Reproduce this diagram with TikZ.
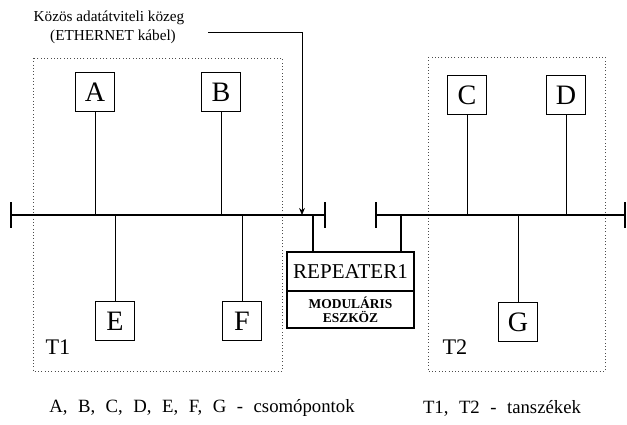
\documentclass[tikz,border=0pt]{standalone}
\usepackage{fontspec}
\setmainfont{Liberation Serif}
\usetikzlibrary{positioning,arrows.meta}
\tikzset{
  stnode/.style={draw,line width=0.7pt,minimum width=1.15cm,minimum height=1.15cm,
    inner sep=0pt,font=\fontsize{24}{26}\selectfont},
  busline/.style={line width=1.4pt},
  capline/.style={line width=1.6pt},
  tapline/.style={line width=0.7pt},
  reptap/.style={line width=1.5pt},
  deptbox/.style={draw=black!70,dotted,line width=0.8pt},
  repbox/.style={draw,line width=1.5pt,minimum width=3.81cm,inner sep=0pt,align=center},
  lbl/.style={inner sep=0pt},
  legend/.style={inner sep=0pt,font={\fontsize{16}{18}\selectfont\spaceskip=0.56em plus 0.1em\relax}},
}

\begin{document}
\begin{tikzpicture}[x=0.03cm,y=-0.03cm]
  \useasboundingbox (0,0) rectangle (627,424);
  % departments
  \draw[deptbox] (33,58) rectangle (282,371);
  \draw[deptbox] (428,57) rectangle (605,371);
  \node[lbl,font=\fontsize{19}{22}\selectfont] (t1) at (58,347) {T1};
  \node[lbl,font=\fontsize{19}{22}\selectfont] (t2) at (455,347) {T2};
  % bus segments
  \coordinate (busL1) at (11,215);
  \coordinate (busL2) at (325,215);
  \coordinate (busR1) at (376,215);
  \coordinate (busR2) at (625,215);
  \draw[busline] (busL1) -- (busL2);
  \draw[busline] (busR1) -- (busR2);
  \foreach \c in {busL1,busL2,busR1,busR2}
    \draw[capline] ([yshift=0.39cm]\c) -- ([yshift=-0.39cm]\c);
  % stations
  \node[stnode] (A) at (95,92) {A};
  \node[stnode] (B) at (221,92) {B};
  \node[stnode] (C) at (467,95) {C};
  \node[stnode] (D) at (566,95) {D};
  \node[stnode] (E) at (115,321) {E};
  \node[stnode] (F) at (242,321) {F};
  \node[stnode] (G) at (518,322) {G};
  \foreach \n in {A,B,E,F}
    \draw[tapline] (\n) -- (\n |- busL1);
  \foreach \n in {C,D,G}
    \draw[tapline] (\n) -- (\n |- busR1);
  % repeater
  \node[repbox,minimum height=1.17cm,font=\fontsize{18}{20}\selectfont] (rep) at (350.5,271.5) {REPEATER1};
  \node[repbox,minimum height=1.11cm,font=\fontsize{11.5}{12}\selectfont\bfseries] (mod) at (350.5,309.5) {MODULÁRIS\\ESZKÖZ};
  \draw[reptap] ([xshift=-1.13cm]rep.north) -- ([xshift=-1.13cm]rep.north |- busL1);
  \draw[reptap] ([xshift=1.51cm]rep.north) -- ([xshift=1.51cm]rep.north |- busR1);
  % medium caption
  \node[lbl,font=\fontsize{13}{15}\selectfont] (kozeg) at (109,18) {Közös adatátviteli közeg};
  \node[lbl,font=\fontsize{13}{15}\selectfont] (kabel) at (113,37) {(ETHERNET kábel)};
  \coordinate (arrtop) at (302,32);
  \draw[tapline,-{Stealth[length=6pt,width=5pt]}] (kabel.east |- arrtop) ++(32,0) -- (arrtop) -- (arrtop |- busL1);
  % legend
  \node[legend] (leg1) at (202,408) {A, B, C, D, E, F, G - csomópontok};
  \node[legend] (leg2) at (502,408) {T1, T2 - tanszékek};
\end{tikzpicture}
\end{document}
